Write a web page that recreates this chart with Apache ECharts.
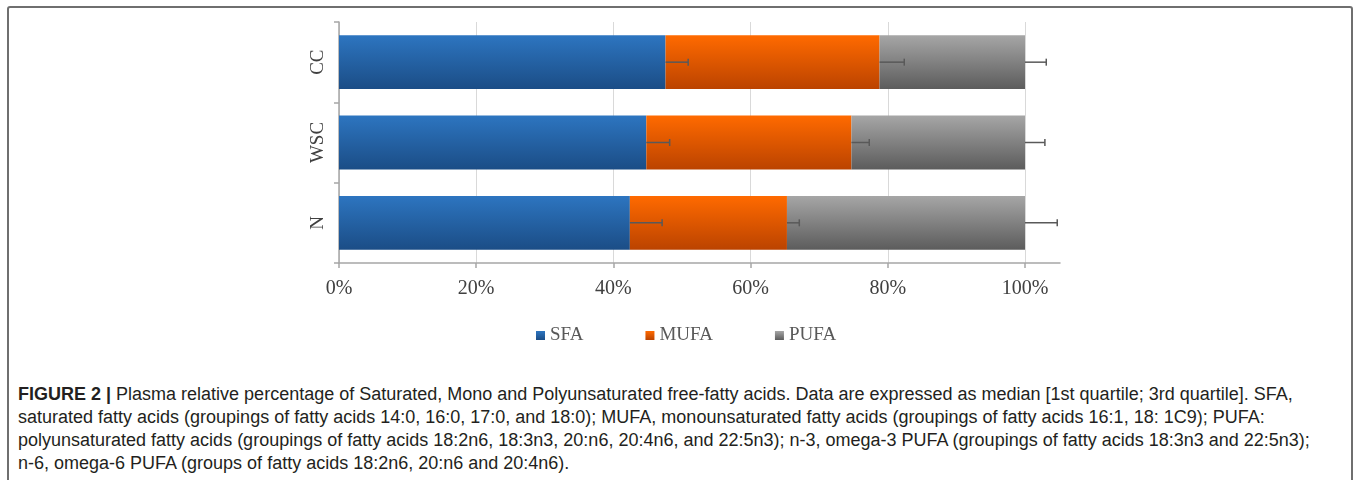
<!DOCTYPE html>
<html>
<head>
<meta charset="utf-8">
<script src="https://cdn.jsdelivr.net/npm/echarts@6/dist/echarts.min.js"></script>
<style>
  html, body { margin: 0; padding: 0; background: #fff; }
  #page { position: relative; width: 1357px; height: 480px; overflow: hidden; }
  #frame {
    position: absolute; left: 7px; top: 6px; width: 1346px; height: 500px;
    border: 2px solid #6f6f6f; border-radius: 3px; box-sizing: border-box;
  }
  #chart { position: absolute; left: 0; top: 0; width: 1357px; height: 370px; }
  #caption {
    position: absolute; left: 18px; top: 383px; width: 1330px;
    font-family: "Liberation Sans", Arial, sans-serif; font-size: 18px;
    line-height: 23px; color: #231f20; white-space: nowrap;
  }
  #caption b { font-weight: bold; }
</style>
</head>
<body>
<div id="page">
  <div id="frame"></div>
  <div id="chart"></div>
  <div id="caption">
    <div><b>FIGURE 2 |</b> Plasma relative percentage of Saturated, Mono and Polyunsaturated free-fatty acids. Data are expressed as median [1st quartile; 3rd quartile]. SFA,</div>
    <div>saturated fatty acids (groupings of fatty acids 14:0, 16:0, 17:0, and 18:0); MUFA, monounsaturated fatty acids (groupings of fatty acids 16:1, 18: 1C9); PUFA:</div>
    <div>polyunsaturated fatty acids (groupings of fatty acids 18:2n6, 18:3n3, 20:n6, 20:4n6, and 22:5n3); n-3, omega-3 PUFA (groupings of fatty acids 18:3n3 and 22:5n3);</div>
    <div>n-6, omega-6 PUFA (groups of fatty acids 18:2n6, 20:n6 and 20:4n6).</div>
  </div>
</div>
<script>
// groups, bottom to top as drawn on the category axis
const groups = ["N", "WSC", "CC"];
const seriesNames = ["SFA", "MUFA", "PUFA"];

// median share (%) of each fraction, per group
const sfa = [42.4, 44.8, 47.6];
const mufa = [22.9, 29.9, 31.2];
const pufa = [34.7, 25.3, 21.2];

// upper error (quartile) length in percentage points
const sfaErr = [4.7, 3.4, 3.3];
const mufaErr = [1.8, 2.6, 3.6];
const pufaErr = [4.7, 2.9, 3.1];

const xTicks = [0, 20, 40, 60, 80, 100];

const SERIF = "'Liberation Serif', 'Times New Roman', serif";
const AXIS_COLOR = "#a6a6a6";
const LABEL_COLOR = "#404040";

const gradients = [
  ["#2d75c0", "#1b4d86"],
  ["#ff6a00", "#bb4300"],
  ["#a6a6a6", "#5c5c5c"]
];

// vertical shading, lighter on top
function grad(pair) {
  return new echarts.graphic.LinearGradient(0, 0, 0, 1, [
    { offset: 0, color: pair[0] },
    { offset: 1, color: pair[1] }
  ]);
}

const values = [sfa, mufa, pufa];
const errs = [sfaErr, mufaErr, pufaErr];

// error bars start at the end of each stacked segment
const errorData = [];
groups.forEach((g, i) => {
  let acc = 0;
  values.forEach((vals, s) => {
    acc += vals[i];
    errorData.push([acc, acc + errs[s][i], i]);
  });
});

const chart = echarts.init(document.getElementById("chart"));

const option = {
  animation: false,
  legend: {
    data: seriesNames,
    left: 531,
    top: 321,
    itemWidth: 9,
    itemHeight: 9,
    itemGap: 62,
    icon: "rect",
    textStyle: { fontFamily: SERIF, fontSize: 19, color: "#595959" }
  },
  grid: [
    { left: 339, top: 22, width: 686, height: 241 },
    { left: 339, top: 22, width: 721, height: 241 }
  ],
  xAxis: [
    {
      type: "value",
      gridIndex: 0,
      min: 0,
      max: 100,
      interval: 20,
      axisLine: { show: false },
      axisTick: { show: true, length: 5, lineStyle: { color: AXIS_COLOR, width: 1.5 } },
      axisLabel: {
        formatter: v => (xTicks.includes(v) ? v + "%" : ""),
        fontFamily: SERIF,
        fontSize: 20,
        color: LABEL_COLOR,
        margin: 16
      },
      splitLine: { lineStyle: { color: "#d9d9d9", width: 1 } }
    },
    {
      type: "value",
      gridIndex: 1,
      min: 0,
      max: 1,
      axisLine: { show: true, lineStyle: { color: AXIS_COLOR, width: 1.5 } },
      axisTick: { show: false },
      axisLabel: { show: false },
      splitLine: { show: false }
    }
  ],
  yAxis: [
    {
      type: "category",
      gridIndex: 0,
      data: groups,
      axisLine: { show: true, lineStyle: { color: AXIS_COLOR, width: 1.5 } },
      axisTick: { show: true, length: 5, lineStyle: { color: AXIS_COLOR, width: 1.5 } },
      axisLabel: {
        rotate: 90,
        fontFamily: SERIF,
        fontSize: 19,
        color: LABEL_COLOR,
        margin: 11
      }
    },
    {
      type: "category",
      gridIndex: 1,
      data: groups,
      show: false
    }
  ],
  series: [
    ...seriesNames.map((name, s) => ({
      name,
      type: "bar",
      stack: "total",
      xAxisIndex: 0,
      yAxisIndex: 0,
      barCategoryGap: "33%",
      data: values[s],
      itemStyle: { color: grad(gradients[s]) },
      z: 2
    })),
    {
      type: "custom",
      xAxisIndex: 0,
      yAxisIndex: 0,
      data: errorData,
      z: 5,
      silent: true,
      renderItem: (params, api) => {
        const start = api.coord([api.value(0), api.value(2)]);
        const end = api.coord([api.value(1), api.value(2)]);
        const cap = 3.5;
        const style = { stroke: "#595959", lineWidth: 1.5 };
        return {
          type: "group",
          children: [
            { type: "line", shape: { x1: start[0], y1: start[1], x2: end[0], y2: end[1] }, style },
            { type: "line", shape: { x1: end[0], y1: end[1] - cap, x2: end[0], y2: end[1] + cap }, style }
          ]
        };
      }
    }
  ]
};

chart.setOption(option);
</script>
</body>
</html>
